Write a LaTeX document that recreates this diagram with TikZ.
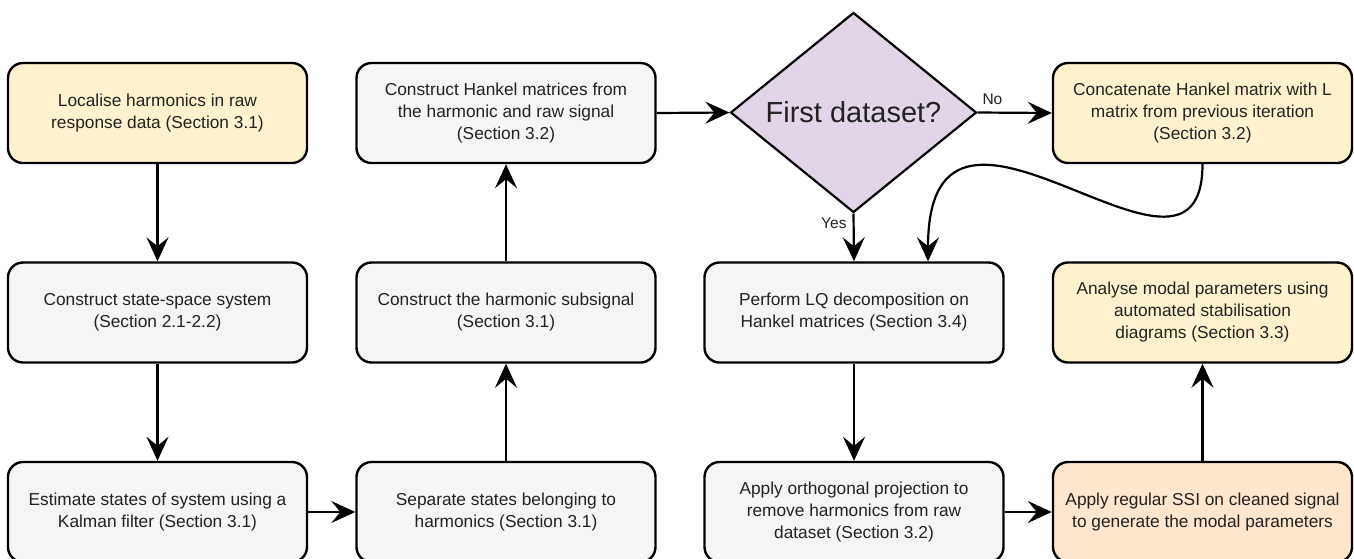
\documentclass[tikz,border=0pt]{standalone}
\usepackage{fontspec}
\setmainfont{Liberation Sans}
\usetikzlibrary{shapes.geometric,arrows.meta}
\definecolor{boxgray}{HTML}{F5F5F5}
\definecolor{boxyellow}{HTML}{FFF2CC}
\definecolor{boxorange}{HTML}{FFE6CC}
\definecolor{boxpurple}{HTML}{E1D5E7}
\definecolor{txt}{HTML}{222222}
\begin{document}
\begin{tikzpicture}[x=1pt,y=-1pt,
  proc/.style={draw=black, line width=2.4pt, rounded corners=15pt,
    minimum width=299pt, minimum height=100pt, inner sep=0pt,
    align=center, text=txt, font=\fontsize{17.3}{22}\selectfont},
  grayb/.style={proc, fill=boxgray},
  yellowb/.style={proc, fill=boxyellow},
  orangeb/.style={proc, fill=boxorange},
  decision/.style={diamond, aspect=1.23, draw=black, line width=2.2pt,
    fill=boxpurple, minimum width=246pt, minimum height=200pt, inner sep=0pt,
    text=txt, font=\fontsize{29}{34}\selectfont},
  arr/.style={-{Stealth[length=24pt,width=22pt,inset=9pt]}, line width=2.2pt, draw=black},
  lbl/.style={text=txt, font=\fontsize{15.5}{18}\selectfont, inner sep=0pt}
]
\useasboundingbox (0,0) rectangle (1354,558);

% column 1
\node[yellowb] (loc) at (157.5,113) {Localise harmonics in raw\\response data (Section 3.1)};
\node[grayb] (ss) at (157.5,312.5) {Construct state-space system\\(Section 2.1-2.2)};
\node[grayb] (est) at (157.5,512) {Estimate states of system using a\\Kalman filter (Section 3.1)};

% column 2
\node[grayb] (hank) at (506,113) {Construct Hankel matrices from\\the harmonic and raw signal\\(Section 3.2)};
\node[grayb] (sub) at (506,312.5) {Construct the harmonic subsignal\\(Section 3.1)};
\node[grayb] (sep) at (506,512) {Separate states belonging to\\harmonics (Section 3.1)};

% column 3
\node[decision] (first) at (853.5,112.5) {First dataset?};
\node[grayb] (lq) at (854,312.5) {Perform LQ decomposition on\\Hankel matrices (Section 3.4)};
\node[grayb] (orth) at (854,512) {Apply orthogonal projection to\\remove harmonics from raw\\dataset (Section 3.2)};

% column 4
\node[yellowb] (conc) at (1202.5,113) {Concatenate Hankel matrix with L\\matrix from previous iteration\\(Section 3.2)};
\node[yellowb] (ana) at (1202.5,312.5) {Analyse modal parameters using\\automated stabilisation\\diagrams (Section 3.3)};
\node[orangeb] (ssi) at (1202.5,512) {Apply regular SSI on cleaned signal\\to generate the modal parameters};

% connectors
\draw[arr] (loc) -- (ss);
\draw[arr] (ss) -- (est);
\draw[arr] (est) -- (sep);
\draw[arr] (sep) -- (sub);
\draw[arr] (sub) -- (hank);
\draw[arr] (hank.east) -- (first.west);
\draw[arr] (first.east) -- node[lbl, above=7pt, pos=0.2] {No} (conc.west);
\draw[arr] (first.south) -- node[lbl, left=6pt, pos=0.2] {Yes} (lq.north);
\coordinate (lqin) at ([xshift=74pt]lq.north);
\draw[arr] (conc.south) .. controls (1202.5,330) and (928,30) .. (lqin);
\draw[arr] (lq) -- (orth);
\draw[arr] (orth) -- (ssi);
\draw[arr] (ssi) -- (ana);
\end{tikzpicture}
\end{document}
